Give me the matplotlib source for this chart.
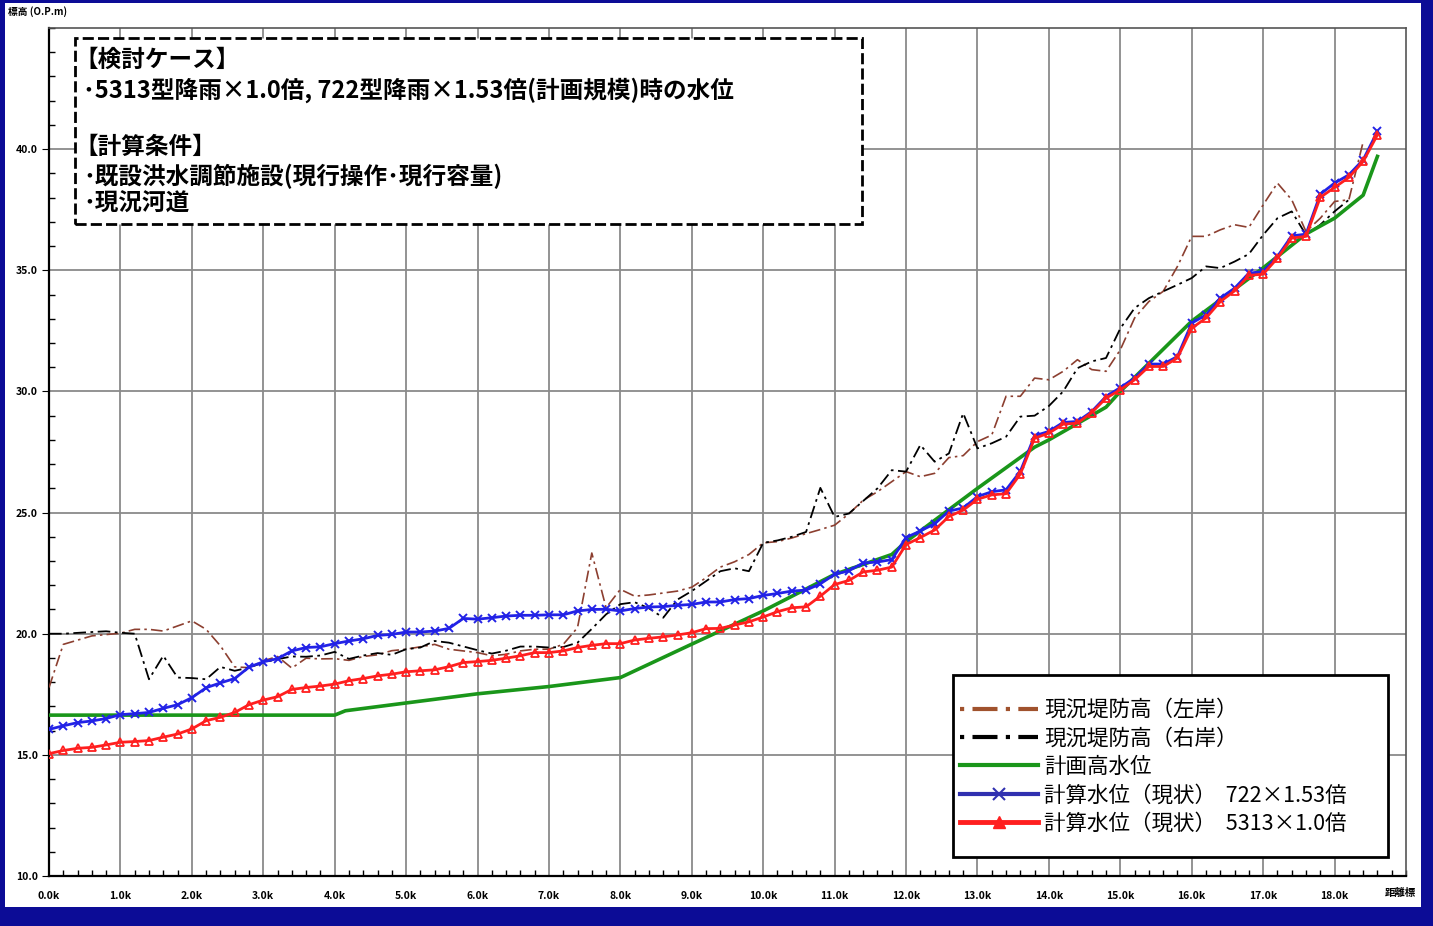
import matplotlib
matplotlib.use("Agg")
import matplotlib.pyplot as plt
from matplotlib.lines import Line2D
from matplotlib.patches import Rectangle
from matplotlib.ticker import MultipleLocator

plt.rcParams['font.family'] = ['Noto Sans CJK JP', 'DejaVu Sans']

# 距離標 (km) for the computed water levels, one station every 200 m
stations = [
    0.0, 0.2, 0.4, 0.6, 0.8, 1.0, 1.2, 1.4, 1.6, 1.8,
    2.0, 2.2, 2.4, 2.6, 2.8, 3.0, 3.2, 3.4, 3.6, 3.8,
    4.0, 4.2, 4.4, 4.6, 4.8, 5.0, 5.2, 5.4, 5.6, 5.8,
    6.0, 6.2, 6.4, 6.6, 6.8, 7.0, 7.2, 7.4, 7.6, 7.8,
    8.0, 8.2, 8.4, 8.6, 8.8, 9.0, 9.2, 9.4, 9.6, 9.8,
    10.0, 10.2, 10.4, 10.6, 10.8, 11.0, 11.2, 11.4, 11.6, 11.8,
    12.0, 12.2, 12.4, 12.6, 12.8, 13.0, 13.2, 13.4, 13.6, 13.8,
    14.0, 14.2, 14.4, 14.6, 14.8, 15.0, 15.2, 15.4, 15.6, 15.8,
    16.0, 16.2, 16.4, 16.6, 16.8, 17.0, 17.2, 17.4, 17.6, 17.8,
    18.0, 18.2, 18.4, 18.6,
]

# 計算水位(現状) 722×1.53倍
wl_722 = [
    16.05, 16.20, 16.33, 16.40, 16.50, 16.66, 16.70, 16.75, 16.92, 17.07,
    17.36, 17.77, 17.97, 18.15, 18.62, 18.84, 18.97, 19.29, 19.43, 19.46,
    19.59, 19.70, 19.79, 19.93, 19.97, 20.07, 20.07, 20.11, 20.22, 20.63,
    20.60, 20.66, 20.73, 20.76, 20.76, 20.78, 20.78, 20.94, 21.00, 21.01,
    20.94, 21.04, 21.10, 21.12, 21.17, 21.21, 21.31, 21.31, 21.41, 21.45,
    21.58, 21.66, 21.76, 21.80, 22.06, 22.45, 22.60, 22.92, 22.96, 23.06,
    23.97, 24.24, 24.54, 25.06, 25.19, 25.66, 25.86, 25.94, 26.70, 28.17,
    28.35, 28.72, 28.76, 29.17, 29.79, 30.16, 30.55, 31.13, 31.13, 31.44,
    32.82, 33.16, 33.85, 34.26, 34.88, 34.95, 35.57, 36.42, 36.49, 38.14,
    38.60, 38.94, 39.56, 40.73,
]

# 計算水位(現状) 5313×1.0倍
wl_5313 = [
    15.05, 15.18, 15.27, 15.31, 15.41, 15.52, 15.55, 15.59, 15.73, 15.86,
    16.07, 16.41, 16.55, 16.75, 17.07, 17.26, 17.40, 17.70, 17.78, 17.84,
    17.92, 18.06, 18.15, 18.26, 18.33, 18.43, 18.47, 18.51, 18.64, 18.81,
    18.85, 18.90, 18.99, 19.09, 19.22, 19.22, 19.29, 19.43, 19.52, 19.59,
    19.59, 19.74, 19.81, 19.87, 19.95, 20.04, 20.21, 20.22, 20.36, 20.49,
    20.69, 20.91, 21.07, 21.11, 21.55, 22.03, 22.20, 22.55, 22.62, 22.75,
    23.68, 23.97, 24.28, 24.84, 25.10, 25.55, 25.73, 25.78, 26.59, 28.07,
    28.28, 28.65, 28.69, 29.13, 29.72, 30.07, 30.48, 31.03, 31.03, 31.38,
    32.61, 33.03, 33.71, 34.15, 34.79, 34.84, 35.50, 36.33, 36.40, 38.01,
    38.42, 38.83, 39.49, 40.59,
]

# 計画高水位
hwl_km = [0.0, 4.0, 4.15, 6.0, 7.0, 8.0, 9.0, 10.0, 11.0, 11.8, 12.0,
          13.0, 13.8, 14.0, 14.8, 15.0, 16.0, 17.0, 17.6, 18.0, 18.4, 18.6]
hwl = [16.64, 16.64, 16.82, 17.52, 17.82, 18.19, 19.57, 20.94, 22.45, 23.27, 23.80,
       26.00, 27.70, 28.00, 29.35, 30.00, 32.90, 35.10, 36.50, 37.15, 38.10, 39.70]

# 現況堤防高(左岸)
left_km = [
    0.0, 0.2, 0.6, 1.0, 1.2, 1.4, 1.6, 2.0, 2.2, 2.4, 2.6, 2.8, 3.0, 3.2, 3.4,
    3.6, 3.8, 4.0, 4.2, 4.4, 4.6, 4.8, 5.0, 5.4, 5.6, 6.0, 6.2, 6.4, 6.6, 6.8,
    7.0, 7.2, 7.4, 7.6, 7.8, 8.0, 8.2, 8.4, 8.6, 8.8, 9.0, 9.2, 9.4, 9.6, 9.8,
    10.0, 10.2, 10.4, 10.6, 10.8, 11.0, 11.2, 11.4, 11.6, 12.0, 12.2, 12.4, 12.6,
    12.8, 13.0, 13.2, 13.4, 13.6, 13.8, 14.0, 14.2, 14.4, 14.6, 14.8, 15.0, 15.2,
    15.4, 15.6, 15.8, 16.0, 16.2, 16.4, 16.6, 16.8, 17.0, 17.2, 17.4, 17.6, 17.8,
    18.0, 18.2, 18.4,
]
left_bank = [
    17.78, 19.56, 19.91, 20.02, 20.18, 20.18, 20.11, 20.53, 20.18, 19.50, 18.63,
    18.60, 18.88, 19.06, 18.58, 18.99, 18.96, 18.97, 18.90, 19.06, 19.13, 19.30,
    19.36, 19.56, 19.36, 19.22, 19.09, 19.15, 19.29, 19.36, 19.36, 19.56, 20.25,
    23.33, 21.07, 21.83, 21.55, 21.60, 21.68, 21.76, 21.92, 22.31, 22.75, 22.97,
    23.27, 23.75, 23.80, 23.95, 24.13, 24.30, 24.48, 24.95, 25.51, 25.86, 26.69,
    26.48, 26.62, 27.27, 27.35, 27.93, 28.20, 29.80, 29.80, 30.55, 30.48, 30.83,
    31.31, 30.90, 30.83, 31.72, 33.03, 33.71, 34.13, 35.16, 36.40, 36.40, 36.67,
    36.88, 36.77, 37.70, 38.60, 37.91, 36.60, 37.15, 37.84, 37.91, 40.30,
]

# 現況堤防高(右岸)
right_km = [
    0.0, 0.2, 0.6, 0.8, 1.0, 1.2, 1.4, 1.6, 1.8, 2.0, 2.2, 2.4, 2.6, 2.8, 3.0,
    3.2, 3.4, 3.6, 3.8, 4.0, 4.2, 4.4, 4.6, 4.8, 5.0, 5.2, 5.4, 5.6, 6.0, 6.2,
    6.4, 6.6, 6.8, 7.0, 7.2, 7.4, 7.6, 7.8, 8.0, 8.2, 8.4, 8.6, 8.8, 9.0, 9.2,
    9.4, 9.6, 9.8, 10.0, 10.2, 10.4, 10.6, 10.8, 11.0, 11.2, 11.6, 11.8, 12.0,
    12.2, 12.4, 12.6, 12.8, 13.0, 13.2, 13.4, 13.6, 13.8, 14.0, 14.2, 14.4, 14.6,
    14.8, 15.0, 15.2, 15.4, 15.6, 15.8, 16.0, 16.2, 16.4, 16.6, 16.8, 17.0, 17.2,
    17.4, 17.6, 17.8, 18.0, 18.2,
]
right_bank = [
    20.00, 20.00, 20.07, 20.10, 20.04, 20.00, 18.12, 19.09, 18.19, 18.17, 18.12,
    18.63, 18.47, 18.60, 18.81, 18.95, 19.06, 19.05, 19.10, 19.25, 18.96, 19.10,
    19.20, 19.13, 19.36, 19.43, 19.70, 19.63, 19.32, 19.18, 19.30, 19.47, 19.47,
    19.43, 19.45, 19.63, 20.20, 20.80, 21.22, 21.30, 21.05, 20.66, 21.41, 21.76,
    22.17, 22.58, 22.70, 22.58, 23.75, 23.85, 24.00, 24.20, 26.02, 24.82, 24.96,
    26.00, 26.75, 26.69, 27.79, 27.10, 27.44, 29.10, 27.65, 27.86, 28.13, 28.96,
    29.00, 29.40, 30.00, 30.96, 31.24, 31.38, 32.60, 33.44, 33.85, 34.13, 34.40,
    34.68, 35.16, 35.09, 35.36, 35.67, 36.46, 37.15, 37.43, 36.46, 36.88, 37.43,
    37.91,
]

x_ticks = list(range(0, 19))
x_tick_labels = [f"{v:.1f}k" for v in x_ticks]
y_ticks = [10, 15, 20, 25, 30, 35, 40]
y_tick_labels = [f"{v:.1f}" for v in y_ticks]

legend_labels = [
    "現況堤防高（左岸）",
    "現況堤防高（右岸）",
    "計画高水位",
    "計算水位（現状）  722×1.53倍",
    "計算水位（現状）  5313×1.0倍",
]
# (text, left edge in px, centre row in px)
note_lines = [
    ("【検討ケース】", 74, 60),
    ("･5313型降雨×1.0倍, 722型降雨×1.53倍(計画規模)時の水位", 83, 90),
    ("【計算条件】", 74, 147),
    ("･既設洪水調節施設(現行操作･現行容量)", 83, 176),
    ("･現況河道", 83, 204),
]

BROWN = "#8c3f30"
GREEN = "#1a961a"
BLUE = "#2222e6"
RED = "#ff1f1f"
NAVY = "#0c0c96"

# axes frame in pixels of the 1433x926 picture
AX_L, AX_R, AX_T, AX_B = 49, 1406, 28, 876


def ax_xy(px, py):
    return (px - AX_L) / (AX_R - AX_L), (AX_B - py) / (AX_B - AX_T)


def main():
    fig = plt.figure(figsize=(14.33, 9.26), dpi=100)
    fig.patch.set_facecolor(NAVY)
    # white sheet inside the blue frame
    fig.patches.append(Rectangle((5 / 1433, 19 / 926), 1416 / 1433, 904 / 926,
                                 transform=fig.transFigure, facecolor="white",
                                 edgecolor="none", zorder=-10))

    ax = fig.add_axes([AX_L / 1433, (926 - AX_B) / 926,
                       (AX_R - AX_L) / 1433, (AX_B - AX_T) / 926])
    ax.set_xlim(0, 19.0)
    ax.set_ylim(10, 45)

    ax.plot(left_km, left_bank, color=BROWN, lw=1.2,
            linestyle=(0, (7, 2.5, 1.5, 2.5)), zorder=3)
    ax.plot(right_km, right_bank, color="black", lw=1.3,
            linestyle=(0, (7, 2.5, 1.5, 2.5)), zorder=3)
    ax.plot(hwl_km, hwl, color=GREEN, lw=2.6, zorder=4)
    ax.plot(stations, wl_722, color=BLUE, lw=2.0, marker="x", ms=6,
            mew=1.4, zorder=5)
    ax.plot(stations, wl_5313, color=RED, lw=2.0, marker="^", ms=6,
            mfc="none", mew=1.3, zorder=6)

    # grid, ticks
    ax.set_xticks(x_ticks)
    ax.set_xticklabels(x_tick_labels)
    ax.xaxis.set_minor_locator(MultipleLocator(0.2))
    ax.set_yticks(y_ticks)
    ax.set_yticklabels(y_tick_labels)
    ax.yaxis.set_minor_locator(MultipleLocator(1))
    ax.grid(True, which="major", color="#8a8a8a", lw=1.3, zorder=1)
    ax.set_axisbelow(True)
    ax.tick_params(axis="x", which="major", length=0, pad=11,
                   labelsize=7.5)
    ax.tick_params(axis="x", which="minor", direction="in", length=4,
                   width=1.0)
    ax.tick_params(axis="y", which="major", direction="out", length=5,
                   pad=3, labelsize=7.5)
    ax.tick_params(axis="y", which="minor", direction="in", length=4,
                   width=1.0)
    for lab in ax.get_xticklabels() + ax.get_yticklabels():
        lab.set_fontweight("bold")
    for side in ("left", "bottom"):
        ax.spines[side].set_linewidth(1.6)
        ax.spines[side].set_color("black")
    for side in ("top", "right"):
        ax.spines[side].set_linewidth(1.2)
        ax.spines[side].set_color("#555555")

    ax.text(0.9956, -0.0205, "距離標", transform=ax.transAxes, ha="center",
            va="center", fontsize=7.5, fontweight="bold")
    fig.text(8 / 1433, 1 - 12 / 926, "標高 (O.P.m)", ha="left", va="center",
             fontsize=7, fontweight="bold")

    # note box
    x0, y0 = ax_xy(75, 224)
    x1, y1 = ax_xy(862, 38)
    ax.add_patch(Rectangle((x0, y0), x1 - x0, y1 - y0,
                           transform=ax.transAxes, facecolor="white",
                           edgecolor="black", lw=2.0, linestyle=(0, (4, 1.5)),
                           zorder=7))
    for text, px, py in note_lines:
        tx, ty = ax_xy(px, py)
        ax.text(tx, ty, text, transform=ax.transAxes, ha="left", va="center",
                fontsize=17, fontweight="bold", zorder=8)

    # legend: frame drawn separately so the padding can follow the original
    x0, y0 = ax_xy(953, 857)
    x1, y1 = ax_xy(1388, 675)
    ax.add_patch(Rectangle((x0, y0), x1 - x0, y1 - y0,
                           transform=ax.transAxes, facecolor="white",
                           edgecolor="black", lw=2.0, zorder=9))
    handles = [
        Line2D([], [], color="#a0522d", lw=3, linestyle=(0, (1, 2, 6, 2))),
        Line2D([], [], color="black", lw=3, linestyle=(0, (1, 2, 6, 2))),
        Line2D([], [], color=GREEN, lw=3),
        Line2D([], [], color="#3030b0", lw=3, marker="x", ms=9, mew=1.5),
        Line2D([], [], color=RED, lw=3.5, marker="^", ms=8),
    ]
    leg = ax.legend(handles, legend_labels, loc="center left",
                    bbox_to_anchor=ax_xy(960, 767), borderaxespad=0,
                    fontsize=15.5, handlelength=3.6, handletextpad=0.3,
                    labelspacing=0.3, borderpad=0, frameon=False)
    leg.set_zorder(10)

    fig.savefig("out.png", dpi=100, facecolor=fig.get_facecolor())


if __name__ == "__main__":
    main()
